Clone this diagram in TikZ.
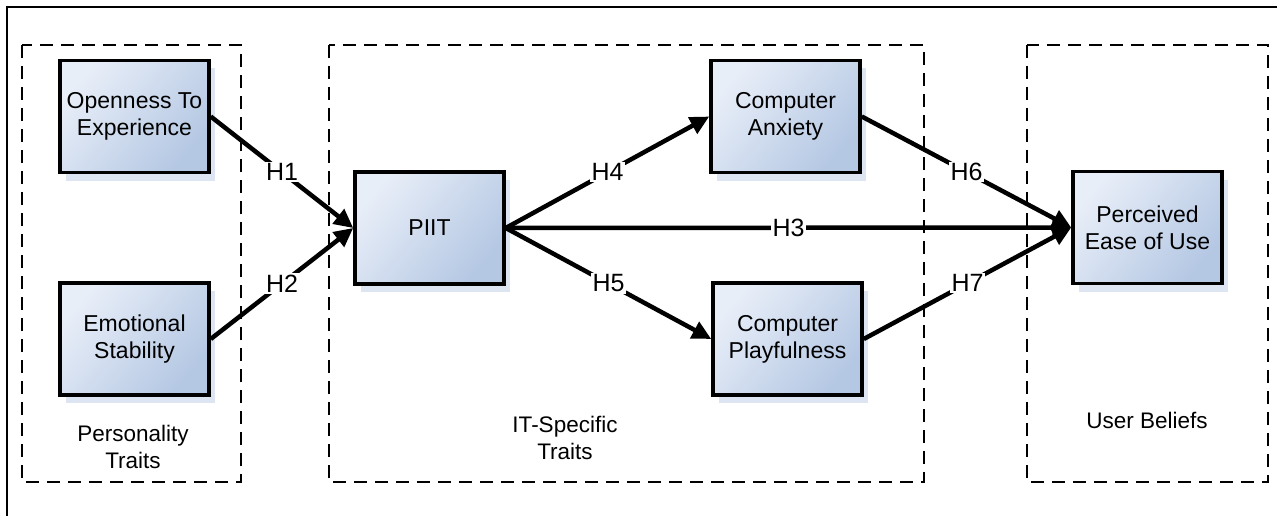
\documentclass[tikz,border=0pt]{standalone}
\usepackage{fontspec}
\setmainfont{Liberation Sans}
\usetikzlibrary{arrows.meta,shadows}
\definecolor{boxlight}{HTML}{E8EEF8}
\definecolor{boxdark}{HTML}{B4C7E3}
\definecolor{shadowblue}{HTML}{DDE5F3}
\tikzset{
  construct/.style={draw=black, line width=3.5pt, minimum width=149pt, minimum height=112pt,
    top color=boxlight, bottom color=boxdark, shading angle=50,
    drop shadow={shadow xshift=6pt, shadow yshift=-8pt, fill=shadowblue, opacity=1},
    align=center, font=\fontsize{23}{27}\selectfont, inner sep=2pt},
  group/.style={draw=black, line width=2pt, dash pattern=on 13pt off 8pt},
  grouplabel/.style={align=center, font=\fontsize{22.5}{27}\selectfont},
  arr/.style={line width=4.5pt, -{Triangle[length=19pt,width=18pt]}},
  hlab/.style={fill=white, inner sep=1.5pt, font=\fontsize{25}{28}\selectfont}
}
\begin{document}
\begin{tikzpicture}[x=1pt,y=-1pt]
\useasboundingbox (0,0) rectangle (1277,516);
% outer frame (top and left visible)
\draw[line width=2.5pt] (7,516) -- (7,7) -- (1280,7);
% groups
\draw[group] (22,45) rectangle (241,482);
\draw[group] (329,45) rectangle (924,482);
\draw[group] (1027,45) rectangle (1268,482);
\node[grouplabel] (gl1) at (133,447) {Personality\\Traits};
\node[grouplabel] (gl2) at (565,438) {IT-Specific\\Traits};
\node[grouplabel] (gl3) at (1147,420) {User Beliefs};
% constructs
\node[construct] (open) at (134.5,116.5) {Openness To\\Experience};
\node[construct] (emo) at (134.5,339) {Emotional\\Stability};
\node[construct] (piit) at (429.5,228) {PIIT};
\node[construct] (anx) at (785.5,116.5) {Computer\\Anxiety};
\node[construct] (play) at (787.5,339) {Computer\\Playfulness};
\node[construct] (peou) at (1147.5,227.5) {Perceived\\Ease of Use};
% hypotheses
\draw[arr] (open.east) -- node[hlab] {H1} (piit.west);
\draw[arr] (emo.east) -- node[hlab] {H2} (piit.west);
\draw[arr] (piit.east) -- node[hlab] {H4} (anx.west);
\draw[arr] (piit.east) -- node[hlab] {H5} (play.west);
\draw[arr] (piit.east) -- node[hlab] {H3} (peou.west);
\draw[arr] (anx.east) -- node[hlab] {H6} (peou.west);
\draw[arr] (play.east) -- node[hlab] {H7} (peou.west);
\end{tikzpicture}
\end{document}
